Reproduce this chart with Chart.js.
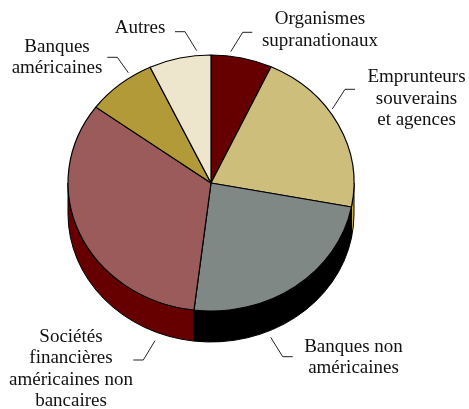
<!DOCTYPE html>
<html>
<head>
<meta charset="utf-8">
<script src="https://cdn.jsdelivr.net/npm/chart.js@4"></script>
<style>
html,body{margin:0;padding:0;background:#fff;}
canvas{display:block;}
</style>
</head>
<body>
<canvas id="c" width="469" height="409"></canvas>
<script>
const categories = ['Organismes supranationaux', 'Emprunteurs souverains et agences', 'Banques non américaines', 'Sociétés financières américaines non bancaires', 'Banques américaines', 'Autres'];
const values = [6.9, 21.1, 23.9, 33.2, 7.9, 7.0];
const labelLines = [
  ['Organismes', 'supranationaux'],
  ['Emprunteurs', 'souverains', 'et agences'],
  ['Banques non', 'américaines'],
  ['Sociétés', 'financières', 'américaines non', 'bancaires'],
  ['Banques', 'américaines'],
  ['Autres']
];
const topColors = ['#660000', '#cdbe7c', '#7f8884', '#9c5b5b', '#b39a38', '#ede5cc'];
const sideColors = ['#4a0000', '#cfae3c', '#000000', '#660000', '#8a7420', '#c9c0a0'];

// label layout: text centre x, first line middle y, leader polyline
const labelLayout = [
  {x: 320, y: 19.5, lead: [[230.7, 51.7], [242.7, 32.3], [252.3, 32.3]]},
  {x: 416.5, y: 77, lead: [[332.3, 109], [345, 89.3], [355, 89.3]]},
  {x: 353.5, y: 346.7, lead: [[270.7, 337.3], [282.7, 356.7], [292.7, 356.7]]},
  {x: 71, y: 336.7, lead: [[155, 340.7], [143.3, 360], [133.3, 360]]},
  {x: 57, y: 46.7, lead: [[128.3, 72.7], [117.3, 57.3], [107.3, 57.3]]},
  {x: 140, y: 27.7, lead: [[196.7, 50.7], [185, 31.7], [175, 31.7]]}
];
const TILT = 128 / 143;
const DEPTH = 31;
const LINE_H = 21.6;

const pie3d = {
  id: 'pie3d',
  beforeDatasetsDraw(chart) {
    const ctx = chart.ctx;
    const arcs = chart.getDatasetMeta(0).data;
    let cx = 0, cy = 0;
    arcs.forEach((arc, i) => {
      const p = arc.getProps(['x', 'y', 'startAngle', 'endAngle', 'outerRadius'], true);
      cx = p.x; cy = p.y;
      const s = Math.max(p.startAngle, 0), e = Math.min(p.endAngle, Math.PI);
      if (e <= s) return;
      const R = p.outerRadius;
      ctx.save();
      ctx.beginPath();
      ctx.ellipse(p.x, p.y, R, R * TILT, 0, s, e);
      ctx.ellipse(p.x, p.y + DEPTH, R, R * TILT, 0, e, s, true);
      ctx.closePath();
      ctx.fillStyle = sideColors[i];
      ctx.fill();
      ctx.strokeStyle = '#000';
      ctx.lineWidth = 1;
      ctx.stroke();
      ctx.restore();
    });
    ctx.save();
    ctx.translate(cx, cy);
    ctx.scale(1, TILT);
    ctx.translate(-cx, -cy);
  },
  afterDatasetsDraw(chart) {
    chart.ctx.restore();
  },
  afterDraw(chart) {
    const ctx = chart.ctx;
    ctx.save();
    ctx.font = '19px "Liberation Serif", "DejaVu Serif", serif';
    ctx.fillStyle = '#111';
    ctx.textAlign = 'center';
    ctx.textBaseline = 'middle';
    labelLayout.forEach((L, i) => {
      labelLines[i].forEach((t, j) => ctx.fillText(t, L.x, L.y + j * LINE_H));
      ctx.beginPath();
      L.lead.forEach((pt, j) => j ? ctx.lineTo(pt[0], pt[1]) : ctx.moveTo(pt[0], pt[1]));
      ctx.strokeStyle = '#222';
      ctx.lineWidth = 1;
      ctx.stroke();
    });
    ctx.restore();
  }
};

new Chart(document.getElementById('c'), {
  type: 'pie',
  data: {
    labels: categories,
    datasets: [{
      data: values,
      backgroundColor: topColors,
      borderColor: '#000',
      borderWidth: 1.2,
      clip: false
    }]
  },
  options: {
    responsive: false,
    animation: false,
    events: [],
    radius: 143,
    layout: {padding: {left: 0, right: 47, top: 0, bottom: 43}},
    plugins: {legend: {display: false}, tooltip: {enabled: false}}
  },
  plugins: [pie3d]
});
</script>
</body>
</html>
